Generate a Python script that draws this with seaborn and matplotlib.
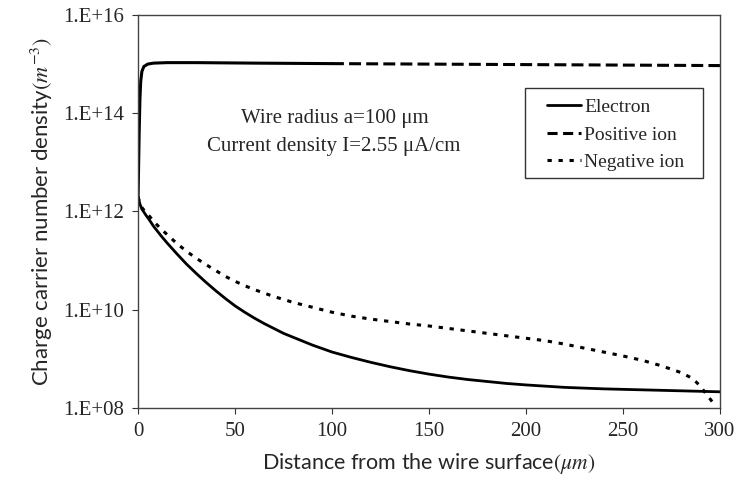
import numpy as np
import pandas as pd
import matplotlib
matplotlib.use("Agg")
import matplotlib.pyplot as plt
from matplotlib.lines import Line2D
from matplotlib.patches import Rectangle
import seaborn as sns

# ---- data (distance in um, log10 of density in m^-3) ----
pos_x = [0, 0.3, 0.6, 1.0, 1.4, 2.0, 3.0, 5.0, 8.0, 15, 30, 60, 100, 150, 200, 250, 300]
pos_log = [12.2, 12.9, 13.6, 14.3, 14.65, 14.85, 14.95, 15.0, 15.02, 15.03, 15.03, 15.02, 15.01, 15.0, 14.99, 14.98, 14.97]
solid_until = 100  # positive-ion curve drawn solid up to this distance, dashed after

ele_x = [0, 1, 2, 4, 6, 8, 10, 12, 15, 20, 25, 30, 35, 40, 45, 50, 55, 60, 65, 70, 75, 80, 85, 90, 95, 100,
         110, 120, 130, 140, 150, 160, 170, 180, 190, 200, 220, 240, 260, 280, 300]
ele_log = [12.3, 12.15, 12.05, 11.93, 11.82, 11.7, 11.6, 11.5, 11.36, 11.14, 10.93, 10.74, 10.56, 10.39,
           10.23, 10.08, 9.95, 9.83, 9.72, 9.62, 9.52, 9.44, 9.36, 9.28, 9.21, 9.14, 9.03, 8.93, 8.84,
           8.76, 8.69, 8.63, 8.58, 8.54, 8.5, 8.47, 8.42, 8.39, 8.37, 8.35, 8.33]

neg_x = [0, 1, 2, 4, 6, 8, 10, 12, 15, 20, 25, 30, 35, 40, 45, 50, 55, 60, 65, 70, 75, 80, 90, 100,
         110, 120, 130, 140, 150, 160, 170, 180, 190, 200, 210, 220, 230, 240, 250, 260, 268, 275, 280,
         285, 288, 290, 293, 296, 298]
neg_log = [12.3, 12.17, 12.08, 11.98, 11.9, 11.8, 11.72, 11.64, 11.53, 11.35, 11.19, 11.05, 10.92, 10.8,
           10.68, 10.58, 10.49, 10.41, 10.34, 10.27, 10.21, 10.15, 10.05, 9.95, 9.87, 9.81, 9.76, 9.71,
           9.67, 9.62, 9.57, 9.52, 9.47, 9.42, 9.37, 9.3, 9.22, 9.14, 9.06, 8.97, 8.88, 8.79, 8.72,
           8.62, 8.52, 8.44, 8.28, 8.13, 8.05]

yticks = [1e8, 1e10, 1e12, 1e14, 1e16]
ytick_labels = ["1.E+08", "1.E+10", "1.E+12", "1.E+14", "1.E+16"]
xticks = [0, 50, 100, 150, 200, 250, 300]
series_names = ["Electron", "Positive ion", "Negative ion"]
annot_lines = ["Wire radius a=100 \u03bcm", "Current density I=2.55 \u03bcA/cm"]

sns.set_theme(style="white")
plt.rcParams["mathtext.fontset"] = "stix"
serif = ["Liberation Serif", "DejaVu Serif"]
sans = ["Lato", "DejaVu Sans"]

fig = plt.figure(figsize=(7.48, 4.91), dpi=100)
ax = fig.add_axes([0.1845, 0.169, 0.778, 0.8005])

pos_df = pd.DataFrame({"x": pos_x, "y": np.power(10.0, pos_log)})
ele_df = pd.DataFrame({"x": ele_x, "y": np.power(10.0, ele_log)})
neg_df = pd.DataFrame({"x": neg_x, "y": np.power(10.0, neg_log)})

DASH = (0, (3.9, 1.7))
DOT = (0, (1.4, 2.2))

sns.lineplot(data=ele_df, x="x", y="y", ax=ax, color="black", lw=2.0, linestyle="-")
sns.lineplot(data=neg_df, x="x", y="y", ax=ax, color="black", lw=2.2, linestyle=DOT)
sns.lineplot(data=pos_df[pos_df["x"] <= solid_until], x="x", y="y", ax=ax, color="black", lw=2.2, linestyle="-")
sns.lineplot(data=pos_df[pos_df["x"] >= solid_until], x="x", y="y", ax=ax, color="black", lw=2.2, linestyle=DASH)

ax.set_yscale("log")
ax.set_xlim(0, 300)
ax.set_ylim(1e8, 1e16)
ax.set_yticks(yticks)
ax.set_yticklabels(ytick_labels, fontfamily=serif, fontsize=15)
ax.minorticks_off()
ax.set_xticks(xticks)
ax.set_xticklabels([str(v) for v in xticks], fontfamily=serif, fontsize=15)
ax.tick_params(axis="both", which="major", direction="out", length=4, width=0.8, color="#333333",
               left=True, bottom=True, pad=6)

for s in ax.spines.values():
    s.set_color("#444444")
    s.set_linewidth(1.0)

ax.set_xlabel("Distance from the wire surface$(\\mu m)$", fontfamily=sans, fontsize=15.5, labelpad=7)
ax.set_ylabel("Charge carrier number density$(m^{-3})$", fontfamily=sans, fontsize=16, labelpad=6)

ax.text(0.338, 0.737, annot_lines[0], transform=ax.transAxes, ha="center", va="center",
        fontfamily=serif, fontsize=15)
ax.text(0.336, 0.666, annot_lines[1], transform=ax.transAxes, ha="center", va="center",
        fontfamily=serif, fontsize=15)

# legend frame drawn as a box, legend entries placed inside
ax.add_patch(Rectangle((0.665, 0.585), 0.306, 0.229, transform=ax.transAxes, fill=False,
                       edgecolor="#333333", lw=1.0, zorder=5))
handles = [
    Line2D([], [], color="black", lw=2.0, linestyle="-"),
    Line2D([], [], color="black", lw=2.2, linestyle=(0, (3.3, 1.8))),
    Line2D([], [], color="black", lw=2.2, linestyle=DOT),
]
leg = ax.legend(handles, series_names, loc="upper left", bbox_to_anchor=(0.703, 0.787),
                borderaxespad=0, borderpad=0, frameon=False, handlelength=1.75, handletextpad=0.15,
                labelspacing=0.5, prop={"family": serif, "size": 14})

fig.savefig("out.png", dpi=100, facecolor="white")
